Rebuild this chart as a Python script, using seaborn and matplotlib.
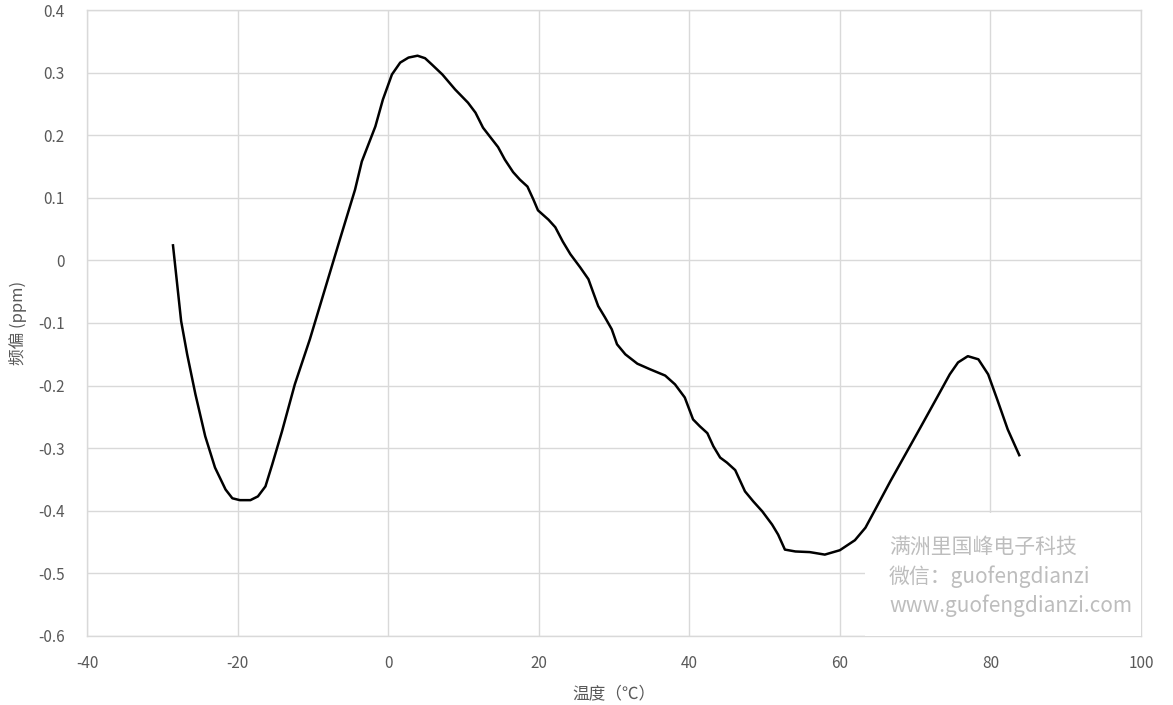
import matplotlib
matplotlib.use('Agg')
import matplotlib.pyplot as plt
import seaborn as sns
import pandas as pd
from matplotlib.patches import Rectangle

# temperature (°C) vs frequency deviation (ppm)
temp = [-28.6, -27.5, -26.7, -25.6, -24.3, -23.0, -21.6, -20.7, -19.7, -18.3,
        -17.3, -16.3, -15.4, -14.1, -12.4, -10.4, -8.4, -6.4, -4.4, -3.5,
        -1.7, -0.7, 0.5, 1.6, 2.7, 3.9, 4.9, 5.8, 7.2, 8.9,
        10.6, 11.6, 12.6, 13.5, 14.6, 15.5, 16.6, 17.5, 18.5, 19.3,
        19.9, 21.3, 22.2, 23.2, 24.2, 25.5, 26.6, 27.2, 27.9, 28.8,
        29.7, 30.4, 31.5, 33.1, 34.8, 36.8, 38.1, 39.4, 40.5, 41.4,
        42.4, 43.2, 44.1, 45.0, 46.1, 47.4, 48.5, 49.7, 51.0, 51.8,
        52.7, 54.1, 56.0, 58.0, 60.0, 62.0, 63.4, 64.7, 66.7, 68.7,
        70.7, 73.0, 74.6, 75.7, 77.0, 78.4, 79.7, 80.9, 82.3, 83.9]
ppm = [0.026, -0.097, -0.150, -0.214, -0.281, -0.331, -0.366, -0.380, -0.383, -0.383,
       -0.377, -0.361, -0.326, -0.273, -0.198, -0.126, -0.046, 0.034, 0.113, 0.158,
       0.214, 0.257, 0.297, 0.316, 0.324, 0.327, 0.323, 0.313, 0.297, 0.273,
       0.252, 0.236, 0.212, 0.198, 0.181, 0.161, 0.141, 0.129, 0.118, 0.097,
       0.080, 0.065, 0.053, 0.030, 0.010, -0.011, -0.030, -0.050, -0.073, -0.091,
       -0.110, -0.134, -0.150, -0.165, -0.174, -0.184, -0.198, -0.219, -0.254, -0.265,
       -0.276, -0.297, -0.315, -0.323, -0.335, -0.369, -0.385, -0.401, -0.422, -0.438,
       -0.462, -0.465, -0.466, -0.470, -0.463, -0.447, -0.427, -0.398, -0.353, -0.310,
       -0.267, -0.217, -0.182, -0.163, -0.153, -0.158, -0.182, -0.222, -0.270, -0.313]

x_ticks = [-40, -20, 0, 20, 40, 60, 80, 100]
y_ticks = [-0.6, -0.5, -0.4, -0.3, -0.2, -0.1, 0, 0.1, 0.2, 0.3, 0.4]
y_labels = ['-0.6', '-0.5', '-0.4', '-0.3', '-0.2', '-0.1', '0', '0.1', '0.2', '0.3', '0.4']
watermark = ['满洲里国峰电子科技', '微信：guofengdianzi', 'www.guofengdianzi.com']

df = pd.DataFrame({'temp': temp, 'ppm': ppm})

sns.set_style('white')
plt.rcParams['font.family'] = ['Noto Sans CJK SC', 'DejaVu Sans']
plt.rcParams['axes.unicode_minus'] = False

fig = plt.figure(figsize=(11.73, 7.05), dpi=100)
ax = fig.add_axes([0.0742, 0.0979, 0.8985, 0.8879])

sns.lineplot(data=df, x='temp', y='ppm', ax=ax, color='black', linewidth=1.8,
             sort=False, zorder=5, solid_joinstyle='round', solid_capstyle='butt')

ax.set_xlim(-40, 100)
ax.set_ylim(-0.6, 0.4)
ax.set_xticks(x_ticks)
ax.set_yticks(y_ticks)
ax.set_yticklabels(y_labels)
ax.grid(True, color='#d9d9d9', linewidth=1)
ax.set_axisbelow(True)
for s in ax.spines.values():
    s.set_color('#d9d9d9')
    s.set_linewidth(1)
ax.tick_params(axis='both', length=0, labelsize=11, labelcolor='#595959')
ax.tick_params(axis='x', pad=14)
ax.tick_params(axis='y', pad=16)

ax.set_xlabel('温度（℃）', fontsize=12, color='#595959', labelpad=9)
ax.set_ylabel('频偏 (ppm)', fontsize=12, color='#595959', labelpad=8)

# watermark box covering the grid in the lower right corner
ax.add_patch(Rectangle((0.738, 0.0), 0.262, 0.196, transform=ax.transAxes,
                       facecolor='white', edgecolor='none', zorder=3))
for i, t in enumerate(watermark):
    ax.text(0.761, 0.142 - i * 0.047, t, transform=ax.transAxes, fontsize=15,
            color='#bdbdbd', va='center', ha='left', zorder=4, fontweight='medium')

fig.savefig('out.png', dpi=100)
